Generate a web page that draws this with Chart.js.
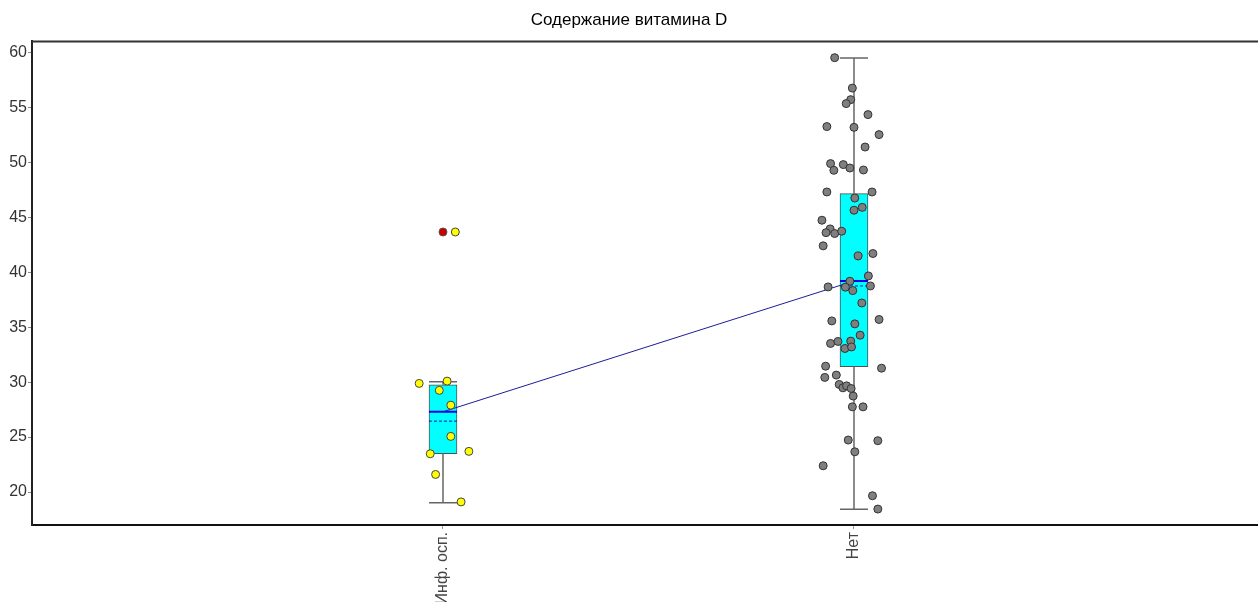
<!DOCTYPE html>
<html>
<head>
<meta charset="utf-8">
<script src="https://cdn.jsdelivr.net/npm/chart.js@4.4.0/dist/chart.umd.min.js"></script>
<style>
  html, body { margin: 0; padding: 0; background: #fff; overflow: hidden; }
  #wrap { width: 1258px; height: 602px; position: relative; }
</style>
</head>
<body>
<div id="wrap"><canvas id="myChart"></canvas></div>
<script>
// groups on the x axis
var categories = ["Инф. осп.", "Нет"];

// individual values, with the horizontal jitter (in category units)
var infValues = [43.66, 29.88, 30.09, 29.25, 27.9, 25.06, 23.48, 23.7, 21.6, 19.1];
var infJitter = [0.030, -0.058, 0.010, -0.009, 0.019, 0.019, -0.031, 0.063, -0.018, 0.044];

var netValues = [59.52, 56.75, 55.7, 55.34, 54.34, 53.25, 53.18, 52.52, 51.39, 49.88,
                 49.27, 49.79, 49.48, 49.3, 47.3, 47.3, 46.75, 45.9, 45.64, 44.73,
                 43.94, 43.6, 43.52, 43.73, 42.4, 41.48, 41.7, 39.66, 39.18, 38.66,
                 38.64, 38.75, 38.33, 37.2, 35.57, 35.7, 35.3, 34.27, 33.52, 33.7,
                 33.06, 33.73, 33.2, 31.45, 31.27, 30.43, 30.64, 29.79, 29.48, 29.66,
                 29.42, 28.73, 27.75, 27.75, 24.73, 24.67, 23.66, 22.39, 19.66, 18.45];
var netJitter = [-0.047, -0.004, -0.008, -0.019, 0.034, -0.066, 0, 0.061, 0.027, -0.057,
                 -0.049, -0.026, -0.010, 0.023, -0.066, 0.044, 0.002, 0.020, 0, -0.078,
                 -0.058, -0.068, -0.047, -0.030, -0.075, 0.010, 0.046, 0.035, -0.010, -0.063,
                 -0.021, 0.040, -0.003, 0.019, -0.054, 0.061, 0.002, 0.015, -0.057, -0.039,
                 -0.022, -0.008, -0.006, -0.069, 0.067, -0.071, -0.043, -0.036, -0.027, -0.018,
                 -0.007, -0.002, -0.004, 0.022, -0.014, 0.058, 0.002, -0.075, 0.045, 0.058];

// box statistics per group
var q1 = [23.5, 31.4];
var q3 = [29.75, 47.15];
var whiskerLow = [19.03, 18.43];
var whiskerHigh = [30.03, 59.5];
var means = [27.3, 39.2];
var medians = [26.45, 38.75];
var outlierGroup = [0];
var outlierValues = [43.66];

var yTicks = [20, 25, 30, 35, 40, 45, 50, 55, 60];

var capHalf = 0.034;

function pos(i) { return i + 1; }

var whiskerData = [];
var meanData = [];
var medianData = [];
categories.forEach(function (c, i) {
    var x = pos(i);
    whiskerData.push({x: x, y: q3[i]}, {x: x, y: whiskerHigh[i]}, {x: x, y: null});
    whiskerData.push({x: x, y: q1[i]}, {x: x, y: whiskerLow[i]}, {x: x, y: null});
    whiskerData.push({x: x - capHalf, y: whiskerHigh[i]}, {x: x + capHalf, y: whiskerHigh[i]}, {x: x, y: null});
    whiskerData.push({x: x - capHalf, y: whiskerLow[i]}, {x: x + capHalf, y: whiskerLow[i]}, {x: x, y: null});
    meanData.push({x: x - capHalf, y: means[i]}, {x: x + capHalf, y: means[i]}, {x: x, y: null});
    medianData.push({x: x - capHalf, y: medians[i]}, {x: x + capHalf, y: medians[i]}, {x: x, y: null});
});

var topBorder = {
    id: "topBorder",
    afterDraw: function (chart) {
        var a = chart.chartArea, ctx = chart.ctx;
        ctx.save();
        ctx.strokeStyle = "#333";
        ctx.lineWidth = 2;
        ctx.beginPath();
        ctx.moveTo(a.left, a.top);
        ctx.lineTo(a.right, a.top);
        ctx.stroke();
        ctx.restore();
    }
};

new Chart("myChart", {
    type: "bar",
    data: {
        datasets: [
            {
                type: "bar",
                data: categories.map(function (c, i) { return {x: pos(i), y: [q1[i], q3[i]]}; }),
                backgroundColor: "#00ffff",
                borderColor: "#505050",
                borderWidth: 1,
                borderSkipped: false,
                barThickness: 28,
                order: 10
            },
            {
                type: "line",
                data: whiskerData,
                borderColor: "#666",
                borderWidth: 1.5,
                pointRadius: 0,
                spanGaps: false,
                order: 9
            },
            {
                type: "line",
                data: medianData,
                borderColor: "#1010c0",
                borderWidth: 1,
                borderDash: [3, 2],
                pointRadius: 0,
                spanGaps: false,
                order: 8
            },
            {
                type: "line",
                data: meanData,
                borderColor: "#0000ee",
                borderWidth: 2,
                pointRadius: 0,
                spanGaps: false,
                order: 7
            },
            {
                type: "line",
                data: categories.map(function (c, i) { return {x: pos(i), y: means[i]}; }),
                borderColor: "#1c1c9a",
                borderWidth: 1,
                pointRadius: 0,
                order: 6
            },
            {
                type: "scatter",
                data: outlierValues.map(function (v, k) { return {x: pos(outlierGroup[k]), y: v}; }),
                backgroundColor: "#cc0000",
                borderColor: "#555",
                borderWidth: 1,
                pointRadius: 4,
                order: 3
            },
            {
                type: "scatter",
                data: infValues.map(function (v, k) { return {x: pos(0) + infJitter[k], y: v}; }),
                backgroundColor: "#ffff00",
                borderColor: "#444",
                borderWidth: 1,
                pointRadius: 4,
                order: 2
            },
            {
                type: "scatter",
                data: netValues.map(function (v, k) { return {x: pos(1) + netJitter[k], y: v}; }),
                backgroundColor: "#7f7f7f",
                borderColor: "#333",
                borderWidth: 1,
                pointRadius: 4,
                order: 1
            }
        ]
    },
    options: {
        responsive: true,
        maintainAspectRatio: false,
        animation: false,
        layout: { padding: 0, autoPadding: false },
        plugins: {
            legend: { display: false },
            tooltip: { enabled: false },
            title: {
                display: true,
                text: "Содержание витамина D",
                color: "#000",
                font: { family: "Liberation Sans", size: 17, weight: "normal" },
                padding: { top: 10, bottom: 11 }
            }
        },
        scales: {
            x: {
                type: "linear",
                min: 0,
                max: 2.983,
                offset: false,
                afterFit: function (s) {
                    s.height = 77;
                    s.paddingLeft = 0;
                    s.paddingRight = 0;
                },
                afterBuildTicks: function (s) {
                    s.ticks = categories.map(function (c, i) { return {value: pos(i)}; });
                },
                ticks: {
                    autoSkip: false,
                    minRotation: 90,
                    maxRotation: 90,
                    padding: 3,
                    color: "#444",
                    font: { family: "Liberation Sans", size: 16 },
                    callback: function (v) { return categories[v - 1]; }
                },
                grid: { offset: false, drawOnChartArea: false, drawTicks: true, tickLength: 4, color: "#999" },
                border: { display: true, color: "#111", width: 2 }
            },
            y: {
                type: "linear",
                min: 17,
                max: 61,
                afterFit: function (s) { s.width = 32; },
                afterBuildTicks: function (s) {
                    s.ticks = yTicks.map(function (v) { return {value: v}; });
                },
                ticks: {
                    padding: 1,
                    color: "#333",
                    font: { family: "Liberation Sans", size: 16 }
                },
                grid: { drawOnChartArea: false, drawTicks: true, tickLength: 4, color: "#888" },
                border: { display: true, color: "#222", width: 2 }
            }
        }
    },
    plugins: [topBorder]
});
</script>
</body>
</html>
